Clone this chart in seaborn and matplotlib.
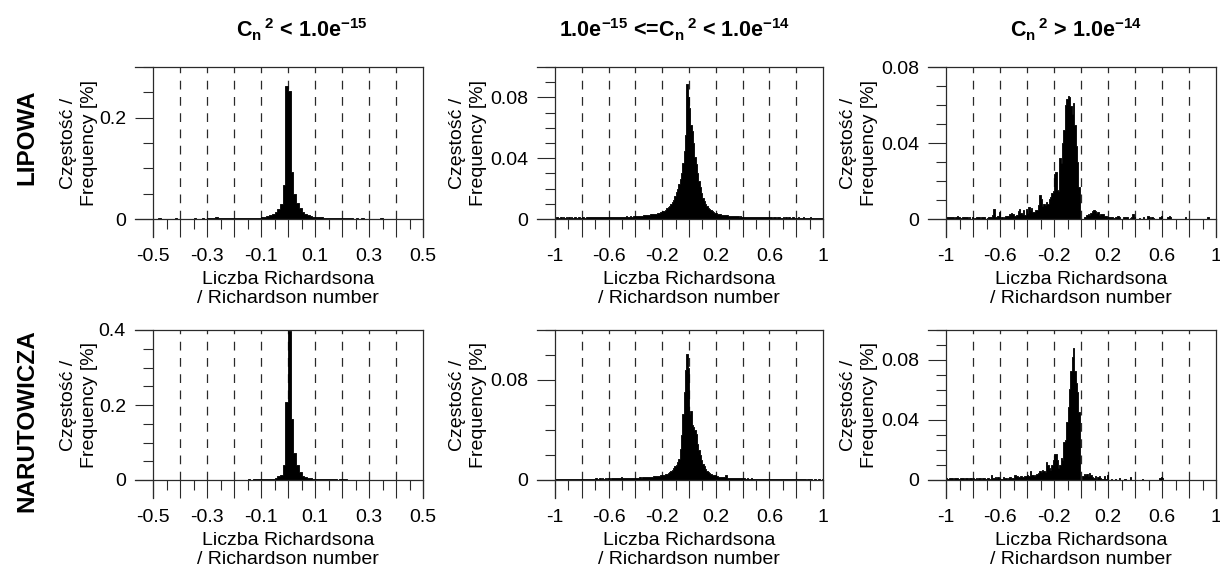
import numpy as np
import pandas as pd
import matplotlib
matplotlib.use('Agg')
import matplotlib.pyplot as plt
import seaborn as sns
from matplotlib.ticker import FixedLocator, FuncFormatter

# Richardson number bins (centres), 0.01 wide
ri_narrow = np.round(np.arange(-0.495, 0.5, 0.01), 3)
ri_wide = np.round(np.arange(-0.995, 1.0, 0.01), 3)

# frequencies [%]
lipowa_low = [
    0.0008, 0.0005, 0.0010, 0.0006, 0.0008, 0.0004, 0.0009, 0.0006, 0.0010, 0.0007,
    0.0008, 0.0005, 0.0009, 0.0007, 0.0008, 0.0010, 0.0006, 0.0009, 0.0011, 0.0008,
    0.0012, 0.0015, 0.0022, 0.0030, 0.0018, 0.0012, 0.0010, 0.0014, 0.0011, 0.0013,
    0.0012, 0.0014, 0.0011, 0.0015, 0.0013, 0.0016, 0.0018, 0.0020, 0.0022, 0.0026,
    0.0030, 0.0040, 0.0050, 0.0070, 0.0100, 0.0140, 0.0200, 0.0300, 0.0670, 0.2620,
    0.2530, 0.0920, 0.0490, 0.0320, 0.0220, 0.0140, 0.0090, 0.0070, 0.0055, 0.0045,
    0.0040, 0.0035, 0.0030, 0.0026, 0.0022, 0.0020, 0.0018, 0.0016, 0.0015, 0.0013,
    0.0012, 0.0011, 0.0012, 0.0010, 0.0009, 0.0011, 0.0008, 0.0010, 0.0009, 0.0008,
    0.0007, 0.0009, 0.0008, 0.0006, 0.0010, 0.0007, 0.0008, 0.0009, 0.0006, 0.0007,
    0.0008, 0.0006, 0.0007, 0.0009, 0.0005, 0.0007, 0.0006, 0.0008, 0.0005, 0.0006,
]
lipowa_mid = [
    0.0008, 0.0010, 0.0007, 0.0009, 0.0011, 0.0008, 0.0010, 0.0009, 0.0012, 0.0008,
    0.0010, 0.0009, 0.0011, 0.0008, 0.0010, 0.0012, 0.0009, 0.0010, 0.0011, 0.0009,
    0.0010, 0.0012, 0.0009, 0.0011, 0.0010, 0.0013, 0.0010, 0.0012, 0.0011, 0.0010,
    0.0012, 0.0011, 0.0013, 0.0012, 0.0010, 0.0013, 0.0012, 0.0014, 0.0011, 0.0013,
    0.0012, 0.0014, 0.0013, 0.0012, 0.0015, 0.0013, 0.0014, 0.0016, 0.0013, 0.0015,
    0.0014, 0.0016, 0.0015, 0.0017, 0.0014, 0.0016, 0.0018, 0.0015, 0.0017, 0.0019,
    0.0018, 0.0020, 0.0019, 0.0022, 0.0021, 0.0023, 0.0025, 0.0024, 0.0027, 0.0026,
    0.0029, 0.0031, 0.0030, 0.0034, 0.0033, 0.0036, 0.0038, 0.0041, 0.0044, 0.0047,
    0.0050, 0.0055, 0.0062, 0.0070, 0.0078, 0.0088, 0.0100, 0.0112, 0.0128, 0.0150,
    0.0176, 0.0200, 0.0230, 0.0262, 0.0300, 0.0370, 0.0450, 0.0550, 0.0890, 0.0800,
    0.0730, 0.0620, 0.0580, 0.0500, 0.0410, 0.0360, 0.0300, 0.0250, 0.0210, 0.0170,
    0.0140, 0.0120, 0.0100, 0.0086, 0.0075, 0.0066, 0.0058, 0.0051, 0.0046, 0.0041,
    0.0038, 0.0035, 0.0033, 0.0031, 0.0029, 0.0028, 0.0026, 0.0025, 0.0024, 0.0022,
    0.0021, 0.0020, 0.0021, 0.0019, 0.0018, 0.0019, 0.0017, 0.0016, 0.0017, 0.0015,
    0.0016, 0.0014, 0.0015, 0.0013, 0.0014, 0.0015, 0.0013, 0.0012, 0.0014, 0.0012,
    0.0013, 0.0011, 0.0012, 0.0013, 0.0010, 0.0012, 0.0011, 0.0010, 0.0012, 0.0011,
    0.0010, 0.0011, 0.0009, 0.0010, 0.0012, 0.0009, 0.0010, 0.0011, 0.0009, 0.0008,
    0.0010, 0.0009, 0.0011, 0.0008, 0.0010, 0.0009, 0.0008, 0.0010, 0.0009, 0.0008,
    0.0009, 0.0010, 0.0008, 0.0009, 0.0007, 0.0010, 0.0008, 0.0009, 0.0007, 0.0008,
    0.0010, 0.0008, 0.0007, 0.0009, 0.0008, 0.0007, 0.0009, 0.0008, 0.0006, 0.0008,
]
lipowa_high = [
    0.0010, 0.0010, 0.0012, 0.0009, 0.0010, 0.0009, 0.0006, 0.0012, 0.0018, 0.0008,
    0.0004, 0.0006, 0.0010, 0.0012, 0.0008, 0.0009, 0.0000, 0.0008, 0.0000, 0.0008,
    0.0000, 0.0004, 0.0009, 0.0009, 0.0008, 0.0000, 0.0009, 0.0012, 0.0008, 0.0000,
    0.0006, 0.0009, 0.0008, 0.0012, 0.0022, 0.0055, 0.0010, 0.0009, 0.0015, 0.0037,
    0.0005, 0.0009, 0.0004, 0.0012, 0.0018, 0.0014, 0.0018, 0.0028, 0.0032, 0.0025,
    0.0016, 0.0018, 0.0022, 0.0042, 0.0055, 0.0030, 0.0028, 0.0050, 0.0022, 0.0055,
    0.0032, 0.0062, 0.0045, 0.0058, 0.0035, 0.0036, 0.0050, 0.0048, 0.0075, 0.0125,
    0.0105, 0.0070, 0.0078, 0.0072, 0.0088, 0.0080, 0.0105, 0.0115, 0.0135, 0.0148,
    0.0235, 0.0245, 0.0155, 0.0148, 0.0320, 0.0295, 0.0400, 0.0470, 0.0598, 0.0630,
    0.0646, 0.0640, 0.0595, 0.0555, 0.0612, 0.0495, 0.0385, 0.0300, 0.0170, 0.0000,
    0.0000, 0.0000, 0.0009, 0.0012, 0.0022, 0.0025, 0.0020, 0.0030, 0.0042, 0.0050,
    0.0042, 0.0032, 0.0035, 0.0020, 0.0025, 0.0026, 0.0025, 0.0016, 0.0016, 0.0009,
    0.0012, 0.0009, 0.0012, 0.0009, 0.0004, 0.0012, 0.0009, 0.0014, 0.0009, 0.0000,
    0.0000, 0.0009, 0.0009, 0.0012, 0.0009, 0.0000, 0.0004, 0.0012, 0.0025, 0.0009,
    0.0000, 0.0000, 0.0000, 0.0004, 0.0000, 0.0000, 0.0009, 0.0000, 0.0000, 0.0018,
    0.0009, 0.0000, 0.0009, 0.0004, 0.0000, 0.0000, 0.0000, 0.0000, 0.0009, 0.0016,
    0.0000, 0.0000, 0.0000, 0.0000, 0.0009, 0.0018, 0.0012, 0.0000, 0.0000, 0.0000,
    0.0000, 0.0000, 0.0000, 0.0000, 0.0000, 0.0000, 0.0000, 0.0012, 0.0000, 0.0000,
    0.0000, 0.0000, 0.0000, 0.0000, 0.0000, 0.0000, 0.0000, 0.0000, 0.0000, 0.0000,
    0.0000, 0.0000, 0.0000, 0.0012, 0.0009, 0.0000, 0.0000, 0.0000, 0.0000, 0.0000,
]
narutowicza_low = [
    0.0006, 0.0004, 0.0007, 0.0005, 0.0006, 0.0008, 0.0005, 0.0004, 0.0006, 0.0005,
    0.0009, 0.0006, 0.0005, 0.0007, 0.0006, 0.0005, 0.0007, 0.0006, 0.0008, 0.0006,
    0.0007, 0.0006, 0.0008, 0.0007, 0.0006, 0.0009, 0.0007, 0.0008, 0.0010, 0.0009,
    0.0010, 0.0009, 0.0011, 0.0010, 0.0012, 0.0014, 0.0013, 0.0016, 0.0018, 0.0020,
    0.0022, 0.0024, 0.0026, 0.0030, 0.0035, 0.0050, 0.0096, 0.0140, 0.0400, 0.2070,
    0.3980, 0.1630, 0.0720, 0.0400, 0.0200, 0.0100, 0.0070, 0.0050, 0.0040, 0.0032,
    0.0028, 0.0025, 0.0022, 0.0020, 0.0018, 0.0016, 0.0015, 0.0014, 0.0013, 0.0015,
    0.0025, 0.0016, 0.0012, 0.0011, 0.0010, 0.0009, 0.0010, 0.0009, 0.0008, 0.0009,
    0.0008, 0.0007, 0.0009, 0.0008, 0.0012, 0.0007, 0.0006, 0.0008, 0.0007, 0.0006,
    0.0007, 0.0005, 0.0006, 0.0007, 0.0005, 0.0006, 0.0004, 0.0005, 0.0006, 0.0004,
]
narutowicza_mid = [
    0.0008, 0.0006, 0.0009, 0.0007, 0.0008, 0.0010, 0.0007, 0.0008, 0.0006, 0.0009,
    0.0007, 0.0008, 0.0010, 0.0008, 0.0007, 0.0009, 0.0008, 0.0010, 0.0009, 0.0008,
    0.0009, 0.0011, 0.0008, 0.0010, 0.0009, 0.0011, 0.0010, 0.0009, 0.0011, 0.0010,
    0.0012, 0.0010, 0.0011, 0.0012, 0.0010, 0.0013, 0.0011, 0.0012, 0.0010, 0.0013,
    0.0012, 0.0011, 0.0013, 0.0012, 0.0014, 0.0012, 0.0013, 0.0015, 0.0014, 0.0020,
    0.0013, 0.0015, 0.0014, 0.0016, 0.0015, 0.0017, 0.0016, 0.0015, 0.0018, 0.0017,
    0.0018, 0.0017, 0.0019, 0.0020, 0.0019, 0.0021, 0.0020, 0.0022, 0.0024, 0.0023,
    0.0025, 0.0027, 0.0026, 0.0028, 0.0030, 0.0031, 0.0033, 0.0034, 0.0036, 0.0038,
    0.0040, 0.0042, 0.0045, 0.0050, 0.0055, 0.0060, 0.0068, 0.0080, 0.0094, 0.0110,
    0.0120, 0.0146, 0.0170, 0.0250, 0.0356, 0.0525, 0.0700, 0.0880, 0.1010, 0.0900,
    0.0530, 0.0550, 0.0440, 0.0420, 0.0400, 0.0370, 0.0290, 0.0240, 0.0200, 0.0160,
    0.0130, 0.0110, 0.0090, 0.0075, 0.0062, 0.0055, 0.0048, 0.0043, 0.0039, 0.0036,
    0.0032, 0.0030, 0.0027, 0.0025, 0.0023, 0.0021, 0.0022, 0.0040, 0.0019, 0.0018,
    0.0017, 0.0016, 0.0017, 0.0015, 0.0016, 0.0014, 0.0015, 0.0013, 0.0014, 0.0013,
    0.0012, 0.0013, 0.0011, 0.0012, 0.0011, 0.0010, 0.0012, 0.0010, 0.0011, 0.0009,
    0.0010, 0.0011, 0.0009, 0.0010, 0.0008, 0.0010, 0.0009, 0.0008, 0.0009, 0.0010,
    0.0008, 0.0009, 0.0007, 0.0008, 0.0009, 0.0007, 0.0008, 0.0006, 0.0008, 0.0007,
    0.0009, 0.0006, 0.0007, 0.0008, 0.0006, 0.0007, 0.0005, 0.0007, 0.0006, 0.0008,
    0.0006, 0.0007, 0.0005, 0.0006, 0.0007, 0.0005, 0.0006, 0.0004, 0.0006, 0.0005,
    0.0007, 0.0005, 0.0004, 0.0006, 0.0005, 0.0004, 0.0006, 0.0005, 0.0004, 0.0005,
]
narutowicza_high = [
    0.0013, 0.0009, 0.0013, 0.0011, 0.0013, 0.0009, 0.0013, 0.0011, 0.0013, 0.0009,
    0.0013, 0.0011, 0.0013, 0.0009, 0.0013, 0.0011, 0.0009, 0.0013, 0.0011, 0.0009,
    0.0013, 0.0009, 0.0011, 0.0009, 0.0013, 0.0011, 0.0009, 0.0013, 0.0011, 0.0009,
    0.0013, 0.0015, 0.0009, 0.0035, 0.0011, 0.0013, 0.0020, 0.0011, 0.0020, 0.0013,
    0.0009, 0.0009, 0.0022, 0.0013, 0.0011, 0.0009, 0.0013, 0.0018, 0.0011, 0.0015,
    0.0035, 0.0030, 0.0026, 0.0020, 0.0022, 0.0024, 0.0018, 0.0020, 0.0026, 0.0028,
    0.0033, 0.0024, 0.0057, 0.0035, 0.0030, 0.0026, 0.0035, 0.0040, 0.0044, 0.0057,
    0.0052, 0.0068, 0.0061, 0.0052, 0.0122, 0.0100, 0.0079, 0.0068, 0.0100, 0.0133,
    0.0170, 0.0170, 0.0133, 0.0079, 0.0100, 0.0144, 0.0133, 0.0250, 0.0265, 0.0385,
    0.0490, 0.0610, 0.0730, 0.0820, 0.0877, 0.0730, 0.0650, 0.0590, 0.0450, 0.0000,
    0.0000, 0.0024, 0.0040, 0.0035, 0.0040, 0.0024, 0.0046, 0.0035, 0.0018, 0.0013,
    0.0024, 0.0009, 0.0018, 0.0030, 0.0013, 0.0009, 0.0009, 0.0026, 0.0009, 0.0035,
    0.0000, 0.0000, 0.0009, 0.0000, 0.0000, 0.0009, 0.0000, 0.0000, 0.0013, 0.0000,
    0.0000, 0.0000, 0.0009, 0.0000, 0.0000, 0.0000, 0.0018, 0.0000, 0.0000, 0.0000,
    0.0000, 0.0000, 0.0000, 0.0000, 0.0000, 0.0009, 0.0000, 0.0000, 0.0000, 0.0000,
    0.0000, 0.0000, 0.0000, 0.0000, 0.0000, 0.0000, 0.0000, 0.0000, 0.0013, 0.0022,
    0.0015, 0.0000, 0.0000, 0.0000, 0.0000, 0.0000, 0.0000, 0.0000, 0.0000, 0.0000,
    0.0000, 0.0000, 0.0000, 0.0000, 0.0000, 0.0000, 0.0000, 0.0000, 0.0000, 0.0000,
    0.0000, 0.0000, 0.0000, 0.0000, 0.0000, 0.0000, 0.0000, 0.0000, 0.0000, 0.0000,
    0.0000, 0.0000, 0.0000, 0.0000, 0.0000, 0.0000, 0.0000, 0.0000, 0.0000, 0.0000,
]

titles = [r'$C_n\,$$^2$ < 1.0e$^{-15}$',
          r'1.0e$^{-15}$ <=$C_n\,$$^2$ < 1.0e$^{-14}$',
          r'$C_n\,$$^2$ > 1.0e$^{-14}$']
stations = ['LIPOWA', 'NARUTOWICZA']
ylabel = 'Częstość /\nFrequency [%]'
xlabel = 'Liczba Richardsona\n/ Richardson number'

freqs = [[lipowa_low, lipowa_mid, lipowa_high],
         [narutowicza_low, narutowicza_mid, narutowicza_high]]
y_top = [[0.3, 0.1, 0.08], [0.4, 0.12, 0.1]]
y_major = [[0.2, 0.04, 0.04], [0.2, 0.08, 0.04]]
y_minor = [[0.05, 0.01, 0.01], [0.05, 0.02, 0.01]]

sns.set_theme(style='ticks')
plt.rcParams['font.family'] = ['Liberation Sans', 'DejaVu Sans']
plt.rcParams['mathtext.fontset'] = 'custom'
plt.rcParams['mathtext.rm'] = 'Liberation Sans:bold'
plt.rcParams['mathtext.it'] = 'Liberation Sans:bold'
plt.rcParams['mathtext.bf'] = 'Liberation Sans:bold'
plt.rcParams['mathtext.default'] = 'bf'
plt.rcParams['axes.unicode_minus'] = False

FW, FH = 1220, 571
TICK = 18  # px, length of the outward major ticks
col_px = [(135, 423), (537, 823), (928, 1216)]
row_px = [(67, 237), (330, 498)]
ink = '#2a2a2a'

fig = plt.figure(figsize=(FW / 100, FH / 100), dpi=100)


def fmt_every(x0, step):
    def f(v, pos):
        k = (v - x0) / step
        if abs(k - round(k)) < 1e-6:
            return f'{round(v, 3):g}'
        return ''
    return FuncFormatter(f)


for r in range(2):
    for c in range(3):
        l, rr = col_px[c]
        t, b = row_px[r]
        W, H = rr - l, b - t
        ax = fig.add_axes([l / FW, 1 - b / FH, W / FW, H / FH])

        narrow = c == 0
        centers = ri_narrow if narrow else ri_wide
        xmin, xmax = (-0.5, 0.5) if narrow else (-1.0, 1.0)
        edges = [round(v - 0.005, 3) for v in centers] + [round(centers[-1] + 0.005, 3)]
        df = pd.DataFrame({'ri': centers, 'freq': freqs[r][c]})

        sns.histplot(data=df, x='ri', weights='freq', bins=edges, element='step',
                     fill=True, color='black', alpha=1, linewidth=0.6, ax=ax, zorder=2)

        top = y_top[r][c]
        D = xmax - xmin
        ax.set_xlim(xmin - TICK * D / (W - TICK), xmax)
        ax.set_ylim(-TICK * top / (H - TICK), top)

        xmaj = 0.1 if narrow else 0.2
        xmin_step = 0.05 if narrow else 0.1
        xmaj_ticks = np.round(np.arange(xmin, xmax + 1e-9, xmaj), 3)
        xmin_ticks = np.round(np.arange(xmin, xmax + 1e-9, xmin_step), 3)
        ax.xaxis.set_major_locator(FixedLocator(xmaj_ticks))
        ax.xaxis.set_minor_locator(FixedLocator(xmin_ticks))
        ax.xaxis.set_major_formatter(fmt_every(xmin, 0.2 if narrow else 0.4))

        ymaj_ticks = np.round(np.arange(0, top + 1e-9, y_major[r][c]), 3)
        ymin_ticks = np.round(np.arange(0, top + 1e-9, y_minor[r][c]), 3)
        ax.yaxis.set_major_locator(FixedLocator(ymaj_ticks))
        ax.yaxis.set_minor_locator(FixedLocator(ymin_ticks))
        ax.yaxis.set_major_formatter(FuncFormatter(lambda v, p: f'{round(v, 3):g}'))

        # dashed guides at interior major x ticks
        ax.vlines(xmaj_ticks[1:-1], 0, top, colors=ink, linestyles=(0, (7, 6)),
                  linewidth=0.9, zorder=1)

        ax.spines['left'].set_position(('data', xmin))
        ax.spines['bottom'].set_position(('data', 0))
        for s in ax.spines.values():
            s.set_visible(True)
            s.set_color(ink)
            s.set_linewidth(0.9)

        ax.tick_params(which='major', direction='out', length=13, width=0.8,
                       color=ink, labelsize=14, labelcolor='black')
        ax.tick_params(which='minor', direction='out', length=7, width=0.8, color=ink)
        ax.tick_params(axis='x', which='major', pad=8)
        ax.tick_params(axis='y', which='major', pad=6.5)

        ax.set_xlabel(xlabel, fontsize=14, linespacing=1.18, color='black')
        ax.set_ylabel(ylabel, fontsize=14, linespacing=1.3, color='black')
        label_right_px = {0: 98, 1: 487, 2: 878}[c]
        ax.yaxis.set_label_coords((label_right_px - l) / W,
                                  (TICK / H + 1) / 2)
        ax.xaxis.set_label_coords((TICK + (W - TICK) / 2) / W, -34 / H)
        ax.set_facecolor('white')

title_x = [302, 675, 1076]
for c in range(3):
    fig.text(title_x[c] / FW, 1 - 37 / FH, titles[c], ha='center', va='baseline',
             fontsize=15.5, fontweight='bold', color='black')

station_y = [137, 421]
for r in range(2):
    fig.text(27 / FW, 1 - station_y[r] / FH, stations[r], rotation=90,
             ha='center', va='center', fontsize=17.5, fontweight='bold', color='black')

fig.savefig('out.png', dpi=100, facecolor='white')
